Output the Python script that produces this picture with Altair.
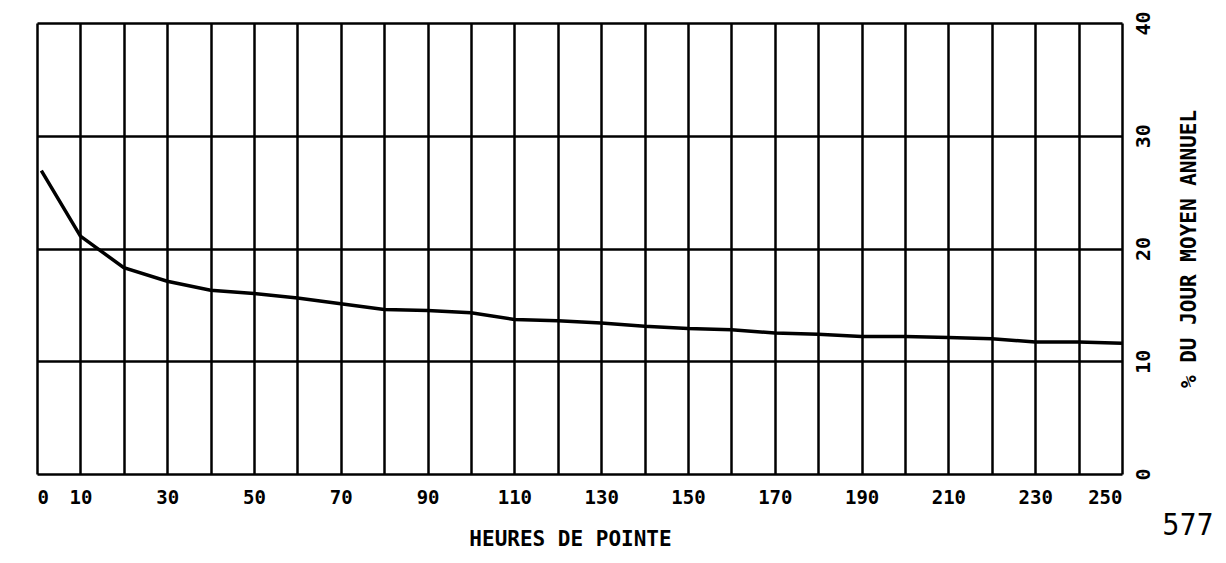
import altair as alt
import pandas as pd

# Peak hours (x) and % of average annual daily traffic (y)
heures = [1, 10, 20, 30, 40, 50, 60, 70, 80, 90, 100, 110, 120, 130, 140,
          150, 160, 170, 180, 190, 200, 210, 220, 230, 240, 250]
pourcent = [26.9, 21.1, 18.3, 17.1, 16.3, 16.0, 15.6, 15.1, 14.6, 14.5, 14.3,
            13.7, 13.6, 13.4, 13.1, 12.9, 12.8, 12.5, 12.4, 12.2, 12.2, 12.1,
            12.0, 11.7, 11.7, 11.6]

x_ticks = list(range(0, 251, 10))
y_ticks = [0, 10, 20, 30, 40]
page_number = ["577"]

FONT = "DejaVu Sans Mono"

df = pd.DataFrame({"h": heures, "p": pourcent})

line = alt.Chart(df).mark_line(color="black", strokeWidth=3.5).encode(
    x=alt.X("h:Q",
            scale=alt.Scale(domain=[0, 250], nice=False, zero=True),
            axis=alt.Axis(values=x_ticks, grid=True, gridColor="black", gridWidth=2.5,
                          gridOpacity=1, ticks=False, domain=False,
                          labelExpr="(datum.value % 20 == 0 && datum.value != 0) ? '' : datum.label",
                          labelFont=FONT, labelFontSize=19, labelFontWeight="bold",
                          labelColor="black", labelPadding=14,
                          title="HEURES DE POINTE", titleFont=FONT, titleFontSize=21,
                          titleFontWeight="bold", titleColor="black", titlePadding=21,
                          titleX=533)),
    y=alt.Y("p:Q",
            scale=alt.Scale(domain=[0, 40], nice=False),
            axis=alt.Axis(orient="right", values=y_ticks, grid=True, gridColor="black",
                          gridWidth=2.5, gridOpacity=1, ticks=False, domain=False,
                          labelAngle=270, labelAlign="center", labelBaseline="top",
                          labelFont=FONT, labelFontSize=20, labelFontWeight="bold",
                          labelColor="black", labelPadding=11,
                          title="% DU JOUR MOYEN ANNUEL", titleAngle=270,
                          titleFont=FONT, titleFontSize=21, titleFontWeight="bold",
                          titleColor="black", titlePadding=46)),
)

page = alt.Chart(pd.DataFrame({"t": page_number})).mark_text(
    font="Liberation Sans Narrow, DejaVu Sans Condensed", fontSize=30, color="black",
    align="center", baseline="middle"
).encode(text="t:N", x=alt.value(1151), y=alt.value(503))

chart = alt.layer(line, page).properties(
    width=1085, height=451,
    autosize=alt.AutoSizeParams(type="none"),
    padding={"left": 29, "top": 15, "right": 96, "bottom": 76},
).configure_view(stroke="black", strokeWidth=4).configure(background="white")

chart.save("out.html", embed_options={"renderer": "svg", "actions": False})
